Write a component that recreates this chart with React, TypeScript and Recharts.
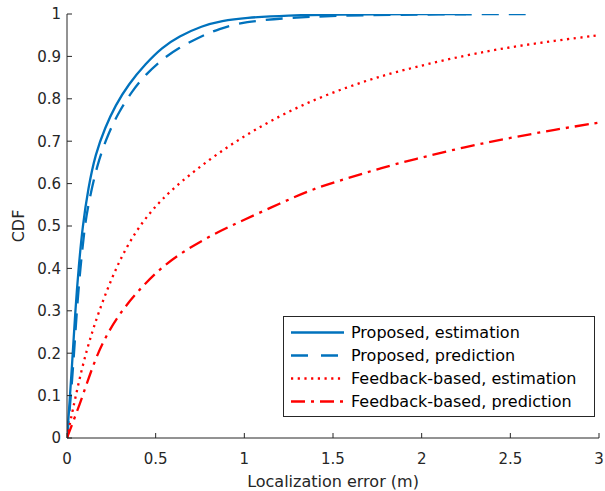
import React from 'react';
import { LineChart, Line, XAxis, YAxis, Legend } from 'recharts';

const xTicks = [0, 0.5, 1, 1.5, 2, 2.5, 3];
const yTicks = [0, 0.1, 0.2, 0.3, 0.4, 0.5, 0.6, 0.7, 0.8, 0.9, 1];

const propEstX = [0, 0.009, 0.028, 0.047, 0.066, 0.088, 0.12, 0.16, 0.216, 0.272, 0.348, 0.442, 0.536, 0.63, 0.761, 0.874, 1.0, 1.25, 1.5, 2.0, 2.25];
const propEstY = [0, 0.05, 0.168, 0.302, 0.404, 0.5, 0.59, 0.67, 0.733, 0.784, 0.835, 0.882, 0.921, 0.947, 0.972, 0.984, 0.991, 0.997, 0.999, 1.0, 1.0];

const propPredX = [0, 0.012, 0.035, 0.055, 0.075, 0.098, 0.113, 0.169, 0.235, 0.291, 0.367, 0.442, 0.536, 0.63, 0.743, 0.855, 1.0, 1.25, 1.5, 2.0, 2.6];
const propPredY = [0, 0.05, 0.168, 0.3, 0.4, 0.49, 0.536, 0.646, 0.72, 0.768, 0.818, 0.857, 0.893, 0.92, 0.945, 0.965, 0.982, 0.991, 0.996, 0.999, 1.0];

const fbEstX = [0, 0.028, 0.085, 0.141, 0.197, 0.254, 0.31, 0.385, 0.461, 0.536, 0.637, 0.825, 1.013, 1.201, 1.389, 1.577, 1.765, 1.953, 2.25, 2.5, 2.75, 3.0];
const fbEstY = [0, 0.058, 0.168, 0.25, 0.318, 0.378, 0.43, 0.485, 0.528, 0.563, 0.603, 0.664, 0.716, 0.76, 0.797, 0.827, 0.853, 0.874, 0.903, 0.922, 0.937, 0.95];

const fbPredX = [0, 0.045, 0.085, 0.15, 0.216, 0.31, 0.423, 0.536, 0.667, 0.836, 1.0, 1.2, 1.389, 1.577, 1.765, 1.953, 2.25, 2.5, 2.75, 3.0];
const fbPredY = [0, 0.05, 0.095, 0.176, 0.239, 0.302, 0.357, 0.404, 0.443, 0.483, 0.515, 0.553, 0.588, 0.612, 0.636, 0.657, 0.687, 0.708, 0.727, 0.744];

const toPoints = (xs: number[], ys: number[]) => xs.map((x, i) => ({ x, y: ys[i] }));

const BLUE = '#0072BD';
const RED = '#FF0000';
const AXIS = '#262626';
const FONT = 'DejaVu Sans';

const series = [
  { name: 'Proposed, estimation', color: BLUE, dash: undefined, legendDash: undefined, data: toPoints(propEstX, propEstY) },
  { name: 'Proposed, prediction', color: BLUE, dash: '17 10', legendDash: '17 13', data: toPoints(propPredX, propPredY) },
  { name: 'Feedback-based, estimation', color: RED, dash: '2.2 4.5', legendDash: '2.2 4.5', data: toPoints(fbEstX, fbEstY) },
  { name: 'Feedback-based, prediction', color: RED, dash: '14 6 3 6', legendDash: '14 6 3 6', data: toPoints(fbPredX, fbPredY) },
];

const renderLegend = () => (
  <div
    style={{
      width: 312,
      height: 101,
      boxSizing: 'border-box',
      border: `1px solid ${AXIS}`,
      background: '#fff',
      paddingTop: 4,
      fontFamily: FONT,
      fontSize: 16,
      color: '#000',
    }}
  >
    {series.map((s) => (
      <div key={s.name} style={{ height: 23, display: 'flex', alignItems: 'center', whiteSpace: 'nowrap' }}>
        <svg width={67} height={23} style={{ flex: 'none' }}>
          <line x1={7} x2={60} y1={11.5} y2={11.5} stroke={s.color} strokeWidth={2.3} strokeDasharray={s.legendDash} />
        </svg>
        <span>{s.name}</span>
      </div>
    ))}
  </div>
);

const tickStyle = { fill: AXIS, fontSize: 15, fontFamily: FONT };

export default function App() {
  return (
    <div style={{ position: 'absolute', left: 0, top: 0, background: '#fff' }}>
      <LineChart width={605} height={491} margin={{ top: 14, right: 6, left: 0, bottom: 0 }}>
        <XAxis
          xAxisId="b"
          dataKey="x"
          type="number"
          domain={[0, 3]}
          ticks={xTicks}
          allowDataOverflow
          height={53}
          tickSize={-5}
          tickMargin={20}
          stroke={AXIS}
          tick={tickStyle}
          label={{ value: 'Localization error (m)', position: 'insideBottom', offset: 4, fill: AXIS, fontSize: 16, fontFamily: FONT }}
        />
        <XAxis
          xAxisId="t"
          orientation="top"
          dataKey="x"
          type="number"
          domain={[0, 3]}
          ticks={xTicks}
          allowDataOverflow
          height={0}
          tickSize={-5}
          stroke={AXIS}
          tickFormatter={() => ''}
        />
        <YAxis
          yAxisId="l"
          type="number"
          domain={[0, 1]}
          ticks={yTicks}
          allowDataOverflow
          width={67}
          tickSize={-5}
          tickMargin={11}
          stroke={AXIS}
          tick={tickStyle}
          label={(props: any) => {
            const vb = props.viewBox || { x: 0, y: 14, width: 67, height: 424 };
            const cx = vb.x + 18.5;
            const cy = vb.y + vb.height / 2;
            return (
              <text
                x={cx}
                y={cy}
                transform={`rotate(-90, ${cx}, ${cy})`}
                textAnchor="middle"
                dominantBaseline="central"
                fill={AXIS}
                fontSize={16}
                fontFamily={FONT}
              >
                CDF
              </text>
            );
          }}
        />
        <YAxis
          yAxisId="r"
          orientation="right"
          type="number"
          domain={[0, 1]}
          ticks={yTicks}
          allowDataOverflow
          width={0}
          tickSize={-5}
          stroke={AXIS}
          tickFormatter={() => ''}
        />
        {series.map((s) => (
          <Line
            key={s.name}
            xAxisId="b"
            yAxisId="l"
            data={s.data}
            dataKey="y"
            name={s.name}
            type="basis"
            stroke={s.color}
            strokeWidth={2.3}
            strokeDasharray={s.dash}
            dot={false}
            activeDot={false}
            isAnimationActive={false}
          />
        ))}
        <Legend
          content={renderLegend}
          layout="vertical"
          align="center"
          verticalAlign="middle"
          wrapperStyle={{ position: 'absolute', left: 283, top: 316, width: 312, height: 101 }}
        />
      </LineChart>
    </div>
  );
}
